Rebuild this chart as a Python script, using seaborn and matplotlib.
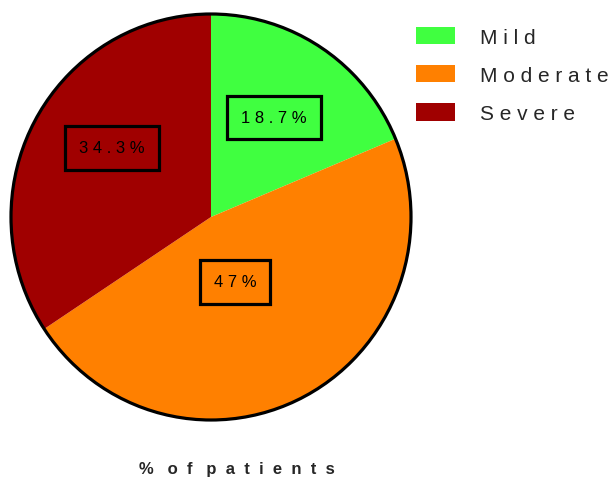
import matplotlib
matplotlib.use('Agg')
import matplotlib.pyplot as plt
import seaborn as sns

# data
severity = ['Mild', 'Moderate', 'Severe']
percent = [18.7, 47.0, 34.3]
pct_labels = ['18.7%', '47%', '34.3%']
colors = ['#40FF40', '#FF8000', '#A00000']


def spaced(s, gap=' '):
    # mimic the wide letter spacing of the original
    return gap.join(s)


sns.set_theme(style='white')
plt.rcParams['font.family'] = ['Liberation Sans', 'DejaVu Sans']

fig = plt.figure(figsize=(6.16, 4.81), dpi=100)
ax = fig.add_axes([11 / 616, 1 - 421 / 481, 400 / 616, 406 / 481])

wedges, _ = ax.pie(percent, colors=colors, startangle=90, counterclock=False,
                   radius=1.0, wedgeprops=dict(linewidth=0))
ax.add_patch(plt.Circle((0, 0), 1.0, fill=False, edgecolor='black',
                        linewidth=2.3, clip_on=False))

# boxed percentage labels
label_pos = [(0.315, 0.49), (0.12, -0.32), (-0.495, 0.34)]
for (x, y), lab in zip(label_pos, pct_labels):
    ax.text(x, y, spaced(lab), ha='center', va='center', fontsize=12, color='black',
            bbox=dict(boxstyle='square,pad=0.85', facecolor='none',
                      edgecolor='black', linewidth=2.3))

ax.set_xlim(-1.0, 1.0)
ax.set_ylim(-1.0, 1.0)
ax.set_aspect('auto')
ax.axis('off')

leg = fig.legend(wedges, [spaced(s) for s in severity], loc='upper left',
                 bbox_to_anchor=(416 / 616, 1 - 28 / 481), frameon=False,
                 fontsize=15, handlelength=1.85, handleheight=0.9,
                 handletextpad=1.2, labelspacing=0.88, borderpad=0,
                 borderaxespad=0)

fig.text(237 / 616, 1 - 470 / 481, '  '.join('%') + '   ' + '   '.join(
    ['  '.join(w) for w in ['of', 'patients']]),
    ha='center', va='center', fontsize=12, fontweight='bold')

fig.savefig('out.png', dpi=100)
